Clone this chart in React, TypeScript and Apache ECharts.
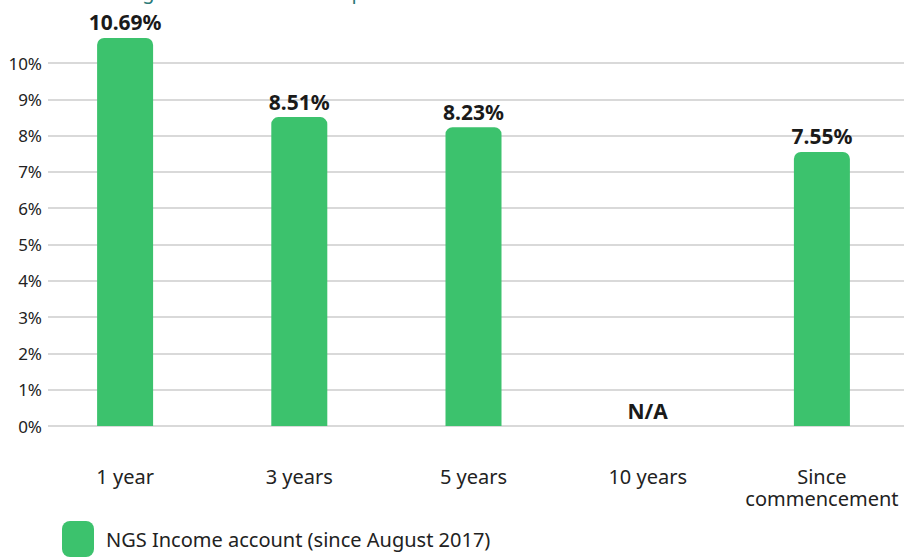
import React, { useEffect, useRef } from "react";
import * as echarts from "echarts";

const categories = ["1 year", "3 years", "5 years", "10 years", "Since\ncommencement"];
const returns: (number | null)[] = [10.69, 8.51, 8.23, null, 7.55];
const valueLabels = ["10.69%", "8.51%", "8.23%", "N/A", "7.55%"];
const seriesName = "NGS Income account (since August 2017)";
const titleText = "Average annual investment performance";
const yMin = 0;
const yMax = 10;
const yInterval = 1;

const FONT = "'Noto Sans', 'DejaVu Sans', sans-serif";
const GREEN = "#3cc26d";

export default function App() {
  const ref = useRef<HTMLDivElement>(null);
  useEffect(() => {
    document.body.style.margin = "0";
    if (!ref.current) return;
    const chart = echarts.init(ref.current, undefined, { renderer: "svg" });
    const barData = returns.map((v, i) =>
      v === null
        ? { value: 0, label: { formatter: valueLabels[i] } }
        : { value: v, label: { formatter: valueLabels[i] } }
    );
    chart.setOption({
      animation: false,
      textStyle: { fontFamily: FONT },
      graphic: [
        {
          type: "text",
          x: 89,
          y: -9,
          style: {
            text: titleText,
            fill: "#2b7a78",
            font: `20px ${FONT}`,
            verticalAlign: "middle",
          },
        },
      ],
      legend: {
        show: true,
        left: 62,
        top: 521,
        padding: 0,
        icon: "roundRect",
        itemWidth: 32,
        itemHeight: 36,
        data: [seriesName],
        textStyle: {
          fontFamily: FONT,
          fontSize: 20,
          color: "#222",
          padding: [6, 0, 0, 7],
        },
      },
      grid: [
        { left: 48, right: 19, top: 63, bottom: 131 },
        { left: 38, right: 14, top: 63, bottom: 131 },
      ],
      xAxis: [
        {
          gridIndex: 0,
          type: "category",
          data: categories,
          show: false,
        },
        {
          gridIndex: 1,
          type: "category",
          data: categories,
          axisLine: { show: false },
          axisTick: { show: false },
          axisLabel: {
            interval: 0,
            hideOverlap: false,
            margin: 39,
            fontFamily: FONT,
            fontSize: 20,
            lineHeight: 22,
            color: "#222",
          },
        },
      ],
      yAxis: [
        {
          gridIndex: 0,
          type: "value",
          min: yMin,
          max: yMax,
          interval: yInterval,
          axisLine: { show: false },
          axisTick: { show: false },
          axisLabel: {
            formatter: "{value}%",
            margin: 6,
            fontFamily: FONT,
            fontSize: 17,
            color: "#222",
          },
          splitLine: { lineStyle: { color: "#cccccc", width: 1.5 } },
        },
        {
          gridIndex: 1,
          type: "value",
          min: yMin,
          max: yMax,
          interval: yInterval,
          show: false,
          splitLine: { show: false },
        },
      ],
      series: [
        {
          name: seriesName,
          type: "bar",
          xAxisIndex: 1,
          yAxisIndex: 1,
          data: barData,
          barWidth: 56,
          clip: false,
          itemStyle: { color: GREEN, borderRadius: [7, 7, 0, 0] },
          label: {
            show: true,
            position: "top",
            distance: 5,
            fontFamily: FONT,
            fontWeight: "bold",
            fontSize: 21,
            color: "#1a1a1a",
          },
        },
      ],
    });
    return () => chart.dispose();
  }, []);
  return <div ref={ref} style={{ width: 923, height: 557 }} />;
}
